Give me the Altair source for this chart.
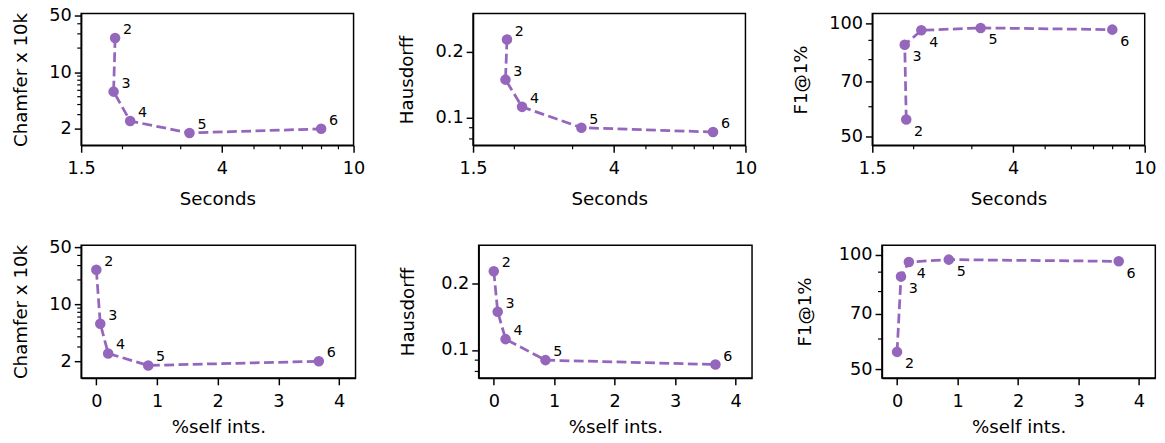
import altair as alt
import pandas as pd

# ---- data ----
ks = [2, 3, 4, 5, 6]
seconds = [1.90, 1.88, 2.11, 3.19, 7.98]
self_ints = [0.0, 0.065, 0.195, 0.855, 3.665]
chamfer = [26.6, 5.78, 2.50, 1.78, 2.0]
hausdorff = [0.227, 0.149, 0.112, 0.090, 0.086]
f1 = [55.5, 87.6, 95.7, 97.1, 96.1]

sec_ticks = [1.5, 4, 10]
sec_minor = [2, 3, 5, 6, 7, 8, 9]
self_ticks = [0, 1, 2, 3, 4]
cham_ticks = [2, 10, 50]
cham_minor = [3, 4, 5, 6, 7, 8, 9, 20, 30, 40]
haus_ticks = [0.1, 0.2]
haus_minor = [0.08, 0.09]
f1_ticks = [50, 70, 100]
f1_minor = [60, 80, 90]

PURPLE = "#9467bd"
FONT = "DejaVu Sans"


def panel(xvals, yvals, xscale, xticks, xminor, xtitle,
          yscale, yticks, yminor, ytitle, label_dy, w, h,
          ytitle_pad=19, xtitle_pad=12):
    df = pd.DataFrame({"x": xvals, "y": yvals, "k": ks})
    X = alt.X("x:Q", scale=xscale,
              axis=alt.Axis(values=xticks, format="~g", title=xtitle,
                            titlePadding=xtitle_pad))
    Y = alt.Y("y:Q", scale=yscale,
              axis=alt.Axis(values=yticks, format="~g", title=ytitle,
                            titlePadding=ytitle_pad))
    base = alt.Chart(df)
    line = base.mark_line(color=PURPLE, strokeWidth=2.8,
                          strokeDash=[10, 4.5]).encode(x=X, y=Y, order="k:O")
    pts = base.mark_circle(color=PURPLE, size=115, opacity=1).encode(x=X, y=Y)
    txt = base.mark_text(align="left", baseline="middle", dx=8, dy=label_dy,
                         fontSize=14.5, font=FONT, color="black").encode(
        x=X, y=Y, text="k:N")
    layers = [line, pts, txt]
    if yminor:
        ydf = pd.DataFrame({"y": yminor})
        layers.append(alt.Chart(ydf).mark_rule(color="black", strokeWidth=1.2).encode(
            y=Y, x=alt.value(-4), x2=alt.value(0)))
    if xminor:
        xdf = pd.DataFrame({"x": xminor})
        layers.append(alt.Chart(xdf).mark_rule(color="black", strokeWidth=1.2).encode(
            x=X, y=alt.value(h), y2=alt.value(h + 4)))
    return alt.layer(*layers).properties(width=w, height=h)


sec_scale = alt.Scale(type="log", domain=[1.5, 10], nice=False)
self_scale = alt.Scale(type="linear", domain=[-0.25, 4.27], nice=False, zero=False)
cham_scale = alt.Scale(type="log", domain=[1.25, 53.5], nice=False)
haus_scale = alt.Scale(type="log", domain=[0.0748, 0.298], nice=False)
f1_scale = alt.Scale(type="log", domain=[47.4, 106], nice=False)

TH = 134
BH = 135

p1 = panel(seconds, chamfer, sec_scale, sec_ticks, sec_minor, "Seconds",
           cham_scale, cham_ticks, cham_minor, "Chamfer x 10k", -8, 277, TH)
p2 = panel(seconds, hausdorff, sec_scale, sec_ticks, sec_minor, "Seconds",
           haus_scale, haus_ticks, haus_minor, "Hausdorff", -8, 277, TH)
p3 = panel(seconds, f1, sec_scale, sec_ticks, sec_minor, "Seconds",
           f1_scale, f1_ticks, f1_minor, "F1@1%", 12.5, 277, TH)

p4 = panel(self_ints, chamfer, self_scale, self_ticks, None, "%self ints.",
           cham_scale, cham_ticks, cham_minor, "Chamfer x 10k", -8, 279, BH,
           xtitle_pad=8)
p5 = panel(self_ints, hausdorff, self_scale, self_ticks, None, "%self ints.",
           haus_scale, haus_ticks, haus_minor, "Hausdorff", -8, 278, BH,
           ytitle_pad=24, xtitle_pad=8)
p6 = panel(self_ints, f1, self_scale, self_ticks, None, "%self ints.",
           f1_scale, f1_ticks, f1_minor, "F1@1%", 12.5, 278, BH,
           ytitle_pad=24, xtitle_pad=8)

top = alt.hconcat(alt.hconcat(p1, p2, spacing=30.5), p3, spacing=32.5)
bottom = alt.hconcat(alt.hconcat(p4, p5, spacing=41.2), p6, spacing=42.3)

chart = alt.vconcat(top, bottom, spacing=28.5).properties(
    padding={"left": 2.4, "top": -6, "right": 0, "bottom": 0}
).configure_view(
    stroke="black", strokeWidth=1.5
).configure_axis(
    labelFont=FONT, titleFont=FONT, labelFontSize=18, titleFontSize=18.5,
    titleFontWeight="normal", labelColor="black", titleColor="black",
    domainColor="black", domainWidth=1.5, tickColor="black", tickWidth=1.5,
    tickSize=7, grid=False, labelFlush=False, labelOverlap=False, labelBound=False
).configure_axisX(
    labelPadding=8
).configure_axisY(
    labelPadding=3
)

chart.save("out.html", embed_options={"renderer": "svg", "actions": False})
